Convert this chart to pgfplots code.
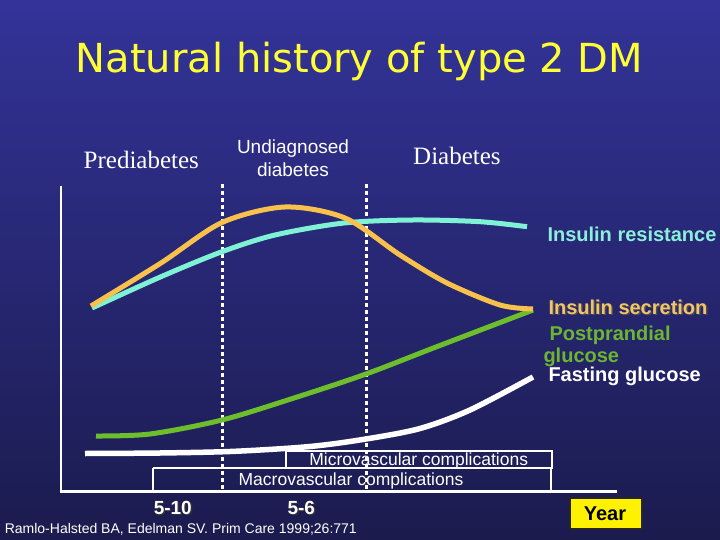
\documentclass[border=0pt]{standalone}
\usepackage{pgfplots}
\pgfplotsset{compat=1.18}
\usepackage{fontspec}
\setmainfont{Liberation Sans}
\newfontfamily\serifx{Liberation Serif}
\newfontfamily\titlef{DejaVu Sans}
\definecolor{bgtop}{RGB}{51,51,153}
\definecolor{bgbot}{RGB}{27,27,78}
\definecolor{titley}{RGB}{255,255,51}
\definecolor{orangel}{RGB}{248,193,75}
\definecolor{oranget}{RGB}{242,196,106}
\definecolor{cyanl}{RGB}{127,242,214}
\definecolor{cyant}{RGB}{140,240,216}
\definecolor{greenl}{RGB}{109,190,44}
\definecolor{greent}{RGB}{109,181,49}
\newcommand{\fs}[1]{\fontsize{#1bp}{#1bp}\selectfont}
\begin{document}
\begin{tikzpicture}
\begin{axis}[width=720bp,height=540bp,scale only axis,
  xmin=0,xmax=720,ymin=0,ymax=540,y dir=reverse,hide axis,clip=false]
\shade[top color=bgtop,bottom color=bgbot] (axis cs:0,0) rectangle (axis cs:720,540);
% axes
\addplot[white,line width=2bp] coordinates {(61,186) (61,491)};
\addplot[white,line width=3bp] coordinates {(59.5,491) (617,491)};
% dotted separators
\addplot[white,line width=3bp,dash pattern=on 4bp off 3bp] coordinates {(222,184) (222,493)};
\addplot[white,line width=3bp,dash pattern=on 4bp off 3bp] coordinates {(366,184) (366,493)};
% complication boxes
\addplot[white,line width=2bp] coordinates {(285.7,451) (552.3,451) (552.3,467.7) (285.7,467.7) (285.7,451)};
\addplot[white,line width=2bp] coordinates {(153.3,467.7) (550.7,467.7) (550.7,491) (153.3,491) (153.3,467.7)};
% fasting glucose
\addplot[white,line width=5.5bp,smooth] coordinates {
(85,453.5) (160,453) (235,451.3) (310,446.5) (366,439) (420,428.5) (470,410) (533,377)};
% postprandial glucose
\addplot[greenl,line width=5bp,smooth] coordinates {
(96,436) (150,434) (222,420) (294,398) (366,374) (436,347) (533,310)};
% insulin resistance
\addplot[cyanl,line width=5bp,smooth] coordinates {
(92,308) (161,276.7) (222,251.7) (275,235) (344,223) (413,220) (480,221.7) (527,226.7)};
% insulin secretion
\addplot[orangel,line width=5bp,smooth] coordinates {
(91,306) (161,263) (222,222.5) (285,207) (345,218) (400,255) (447,283) (500,305) (533,309)};
% title
\node[anchor=base,inner sep=0,text=titley,font=\titlef\fs{40}] at (axis cs:359.5,73) {Natural history of type 2 DM};
% phase labels
\node[anchor=base west,inner sep=0,text=white,font=\serifx\fs{25}] at (axis cs:83.5,168.3) {Prediabetes};
\node[anchor=base,inner sep=0,text=white,font=\fs{19}] at (axis cs:293,153.3) {Undiagnosed};
\node[anchor=base,inner sep=0,text=white,font=\fs{19}] at (axis cs:293,176.7) {diabetes};
\node[anchor=base west,inner sep=0,text=white,font=\serifx\fs{25}] at (axis cs:413,165) {Diabetes};
% curve labels
\node[anchor=base west,inner sep=0,text=cyant,font=\bfseries\fs{20}] at (axis cs:547.3,241.7) {Insulin resistance};
\node[anchor=base west,inner sep=0,text=black!70,font=\bfseries\fs{20}] at (axis cs:549.8,315.5) {Insulin secretion};
\node[anchor=base west,inner sep=0,text=oranget,font=\bfseries\fs{20}] at (axis cs:548.3,314) {Insulin secretion};
\node[anchor=base west,inner sep=0,text=greent,font=\bfseries\fs{20}] at (axis cs:549.3,340) {Postprandial};
\node[anchor=base west,inner sep=0,text=greent,font=\bfseries\fs{20}] at (axis cs:543.3,362) {glucose};
\node[anchor=base west,inner sep=0,text=white,font=\bfseries\fs{20}] at (axis cs:548.3,381.7) {Fasting glucose};
% complications
\node[anchor=base,inner sep=0,text=white,font=\fs{17.5}] at (axis cs:418.7,465) {Microvascular complications};
\node[anchor=base,inner sep=0,text=white,font=\fs{17.5}] at (axis cs:351,485.7) {Macrovascular complications};
% year labels
\node[anchor=base,inner sep=0,text=black!80,font=\bfseries\fs{19}] at (axis cs:174.3,515.5) {5-10};
\node[anchor=base,inner sep=0,text=white,font=\bfseries\fs{19}] at (axis cs:172.8,514) {5-10};
\node[anchor=base,inner sep=0,text=black!80,font=\bfseries\fs{19}] at (axis cs:302.8,515.5) {5-6};
\node[anchor=base,inner sep=0,text=white,font=\bfseries\fs{19}] at (axis cs:301.3,514) {5-6};
% Year box
\filldraw[fill=yellow,draw=black!85,line width=2bp] (axis cs:570,498.3) rectangle (axis cs:641.7,529.3);
\node[anchor=base,inner sep=0,text=black,font=\bfseries\fs{20}] at (axis cs:605,520.7) {Year};
% citation
\node[anchor=base west,inner sep=0,text=white,font=\fs{14}] at (axis cs:4.6,533.3) {Ramlo-Halsted BA, Edelman SV. Prim Care 1999;26:771};
\end{axis}
\end{tikzpicture}
\end{document}
